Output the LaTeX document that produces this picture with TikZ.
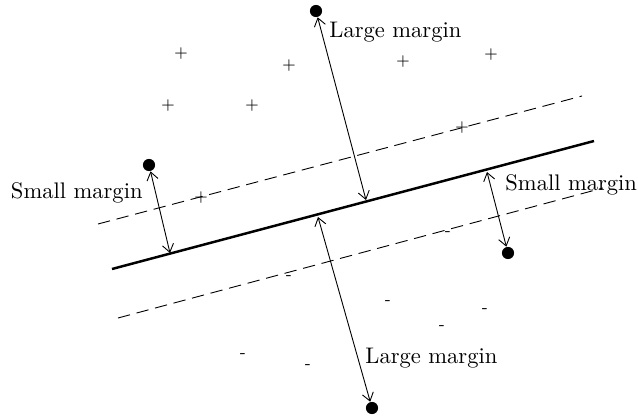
\documentclass[tikz,border=0pt]{standalone}
\usepackage{tikz}
\usetikzlibrary{arrows.meta}

\begin{document}
\begin{tikzpicture}[x=0.0156cm, y=-0.0156cm,
    dot/.style={circle, fill, inner sep=0pt, minimum size=5.4pt},
    sample/.style={font=\scriptsize, inner sep=0pt},
    margin/.style={{Straight Barb[length=3.5pt,width=5pt]}-{Straight Barb[length=3.5pt,width=5pt]}, thin},
    bound/.style={dash pattern=on 5.5pt off 3pt, thin}]
    \useasboundingbox (0,0) rectangle (638,417);
    % separating line and margins
    \coordinate (sepA) at (112,269);
    \coordinate (sepB) at (594,141);
    \coordinate (upA) at (98,224);
    \coordinate (upB) at (582,96);
    \coordinate (loA) at (118,318);
    \coordinate (loB) at (603,188);
    \draw[line width=1.1pt] (sepA) -- (sepB);
    \draw[bound] (upA) -- (upB);
    \draw[bound] (loA) -- (loB);
    % support points
    \node[dot] (top) at (316,11) {};
    \node[dot] (left) at (149,165) {};
    \node[dot] (right) at (508,253) {};
    \node[dot] (bottom) at (372,408) {};
    \coordinate (topfoot) at (366,200);
    \coordinate (leftfoot) at (170,253);
    \coordinate (rightfoot) at (487,172);
    \coordinate (bottomfoot) at (318,217);
    \draw[margin] (top) -- (topfoot);
    \draw[margin] (left) -- (leftfoot);
    \draw[margin] (rightfoot) -- (right);
    \draw[margin] (bottomfoot) -- (bottom);
    % labels
    \node[anchor=west, inner sep=0pt] (toplabel) at (329,32) {Large margin};
    \node[anchor=east, inner sep=0pt] (leftlabel) at (143,193) {Small margin};
    \node[anchor=west, inner sep=0pt] (rightlabel) at (505,185) {Small margin};
    \node[anchor=west, inner sep=0pt] (bottomlabel) at (365,358) {Large margin};
    % positive samples
    \foreach \x/\y [count=\i] in {181/54, 289/66, 403/62, 491/55, 168/106, 252/106, 462/128, 201/198}
        \node[sample] (pos\i) at (\x,\y) {+};
    % negative samples
    \foreach \x/\y [count=\i] in {448/234, 289/278, 388/303, 442/328, 485/311, 243/356, 308/367}
        \node[sample] (neg\i) at (\x,\y) {-};
\end{tikzpicture}
\end{document}
